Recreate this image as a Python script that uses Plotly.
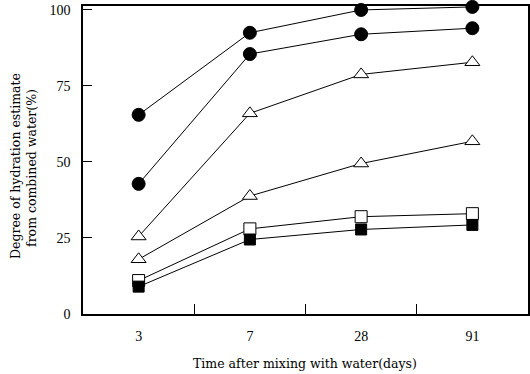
import plotly.graph_objects as go

days = ["3", "7", "28", "91"]
circle_a = [65.5, 92.5, 100, 101]
circle_b = [42.8, 85.5, 92, 94]
tri_a = [25.5, 66, 78.8, 82.8]
tri_b = [18, 38.8, 49.5, 56.8]
square_open = [11, 28, 32, 33]
square_filled = [9, 24.5, 27.8, 29.3]
y_ticks = [0, 25, 50, 75, 100]

series = [
    (circle_a, "circle", "black", 13),
    (circle_b, "circle", "black", 13),
    (tri_a, "triangle-up", "white", 13),
    (tri_b, "triangle-up", "white", 13),
    (square_open, "square", "white", 12),
    (square_filled, "square", "black", 11),
]

fig = go.Figure()
for vals, sym, fill, size in series:
    fig.add_trace(go.Scatter(
        x=days, y=vals, mode="lines+markers",
        line=dict(color="black", width=1),
        marker=dict(symbol=sym, size=size, color=fill,
                    line=dict(color="black", width=1)),
        cliponaxis=False, showlegend=False,
    ))

tick_font = dict(family="Liberation Serif, Times New Roman, serif", size=14, color="black")
title_font = dict(family="DejaVu Serif, serif", size=12.5, color="black")

L, R, T, B = 83, 2, 6, 60
W, H = 530, 374
pw, ph = W - L - R, H - T - B

def px_x(px):
    return (px - L) / pw

def px_y(py):
    return 1 - (py - T) / ph

fig.update_layout(
    width=W, height=H,
    margin=dict(l=L, r=R, t=T, b=B, autoexpand=False),
    paper_bgcolor="white", plot_bgcolor="white",
    font=tick_font,
)
fig.update_xaxes(
    type="category", categoryorder="array", categoryarray=days,
    range=[-0.5, 3.5], tickson="boundaries", ticks="inside", ticklen=10,
    tickcolor="black", showline=True, linecolor="black", linewidth=1.5,
    mirror=True, showgrid=False, zeroline=False, ticklabelstandoff=8,
    automargin=False, tickfont=tick_font,
)
fig.update_yaxes(
    range=[0, 101.3], tickvals=y_ticks, ticks="inside", ticklen=9,
    tickcolor="black", showline=True, linecolor="black", linewidth=1.5,
    mirror=True, showgrid=False, zeroline=False, ticklabelstandoff=8,
    automargin=False, tickfont=tick_font,
)

fig.add_annotation(text="Time after mixing with water(days)", xref="paper", yref="paper",
                   x=px_x(305), y=px_y(363), xanchor="center", yanchor="middle",
                   showarrow=False, font=title_font)
fig.add_annotation(text="Degree of hydration estimate", xref="paper", yref="paper",
                   x=px_x(16), y=px_y(166), xanchor="center", yanchor="middle",
                   textangle=-90, showarrow=False, font=title_font)
fig.add_annotation(text="from combined water(%)", xref="paper", yref="paper",
                   x=px_x(31), y=px_y(168), xanchor="center", yanchor="middle",
                   textangle=-90, showarrow=False, font=title_font)
fig.write_html(
    "out.html",
    config={"displayModeBar": False},
    post_script="document.body.style.margin='0';document.body.style.overflow='hidden';",
)
